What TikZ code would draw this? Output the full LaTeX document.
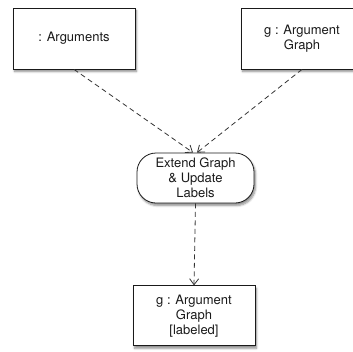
\documentclass[tikz,border=0pt]{standalone}
\usepackage{fontspec}
\setmainfont{TeX Gyre Heros}
\usepackage{xcolor}
\usetikzlibrary{arrows.meta,positioning,shadows.blur}
\definecolor{ink}{HTML}{1A1A1A}
\definecolor{dash}{HTML}{333333}
\tikzset{
  objbox/.style={draw=ink,fill=white,line width=0.8pt,align=center,text=ink,minimum width=122pt,minimum height=61pt,inner sep=2pt,font=\fontsize{13}{15}\selectfont,blur shadow={shadow xshift=1.5pt,shadow yshift=-2.5pt,shadow blur steps=5,shadow opacity=45}},
  actbox/.style={objbox,rounded corners=19pt,minimum width=117pt,minimum height=50pt},
  flow/.style={-{Straight Barb[length=6pt,width=9pt]},line width=0.8pt,color=dash,dash pattern=on 5pt off 3.5pt},
}
\begin{document}
\begin{tikzpicture}[x=1pt,y=1pt]
    \useasboundingbox (0,0) rectangle (353,-351);
    \node[objbox] (args) at (74,-38.5) {: Arguments};
    \node[objbox] (graph) at (302,-38.5) {g : Argument\\Graph};
    \node[actbox] (extend) at (195.5,-178) {Extend Graph\\\& Update\\Labels};
    \node[objbox,minimum height=60pt,below=82pt of extend,xshift=-1.5pt] (labeled) {g : Argument\\Graph\\{[}labeled{]}};
    \draw[flow] (args.south) -- ([xshift=-2.5pt]extend.north);
    \draw[flow] (graph.south) -- ([xshift=1.5pt]extend.north);
    \draw[flow] (extend.south) -- (labeled.north);
  \end{tikzpicture}
\end{document}
